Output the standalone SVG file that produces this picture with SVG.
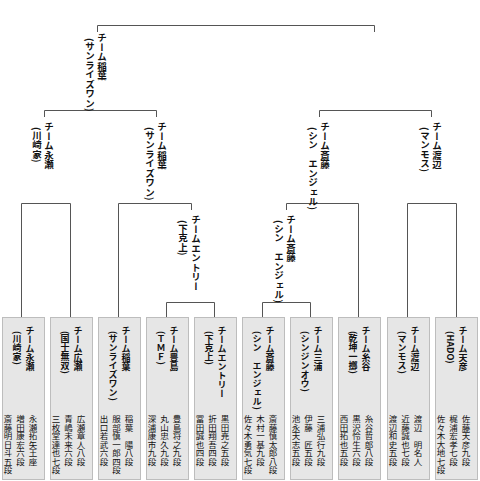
<svg xmlns="http://www.w3.org/2000/svg" width="480" height="481" viewBox="0 0 480 481">
<style>
.ln{fill:none;stroke:#555;stroke-width:1}
.box{fill:#e6e6e6;stroke:#bdbdbd;stroke-width:1}
text{writing-mode:vertical-rl;font-family:"Noto Sans CJK JP","Noto Sans CJK SC",sans-serif;fill:#111}
.h{font-size:9px;font-weight:bold}
.p{font-size:9px;font-weight:bold}
.n{font-size:8.5px}
.lh{font-size:9.5px;font-weight:bold}
.lp{font-size:9.5px;font-weight:bold}
</style>
<rect width="480" height="481" fill="#fff"/>
<g id="connectors">
<path class="ln" d="M97.5,32 V25.5 H374.5 V32"/>
<path class="ln" d="M44.5,117 V110.5 H156.5 V117"/>
<path class="ln" d="M319.5,117 V110.5 H431.5 V117"/>
<path class="ln" d="M21.5,317 V203.5 H70.5 V317"/>
<path class="ln" d="M118.5,317 V203.5 H191.5 V210"/>
<path class="ln" d="M166.5,317 V302.5 H214.5 V317"/>
<path class="ln" d="M262.5,317 V302.5 H310.5 V317"/>
<path class="ln" d="M286.5,210 V203.5 H358.5 V317"/>
<path class="ln" d="M407.5,317 V203.5 H456.5 V317"/>
</g>
<g id="label-final">
<text class="lh" x="102" y="33">チーム稲葉</text>
<text class="lp" x="90" y="38">(サンライズワン)</text>
</g>
<g id="label-semi-1">
<text class="lh" x="49" y="122">チーム永瀬</text>
<text class="lp" x="37" y="127">(川崎家)</text>
</g>
<g id="label-semi-2">
<text class="lh" x="162" y="122">チーム稲葉</text>
<text class="lp" x="150" y="127">(サンライズワン)</text>
</g>
<g id="label-semi-3">
<text class="lh" x="325" y="122">チーム斎藤</text>
<text class="lp" x="313" y="127">(シン　エンジェル)</text>
</g>
<g id="label-semi-4">
<text class="lh" x="437" y="122">チーム渡辺</text>
<text class="lp" x="425" y="127">(マンモス)</text>
</g>
<g id="label-q-2">
<text class="lh" x="196" y="215">チームエントリー</text>
<text class="lp" x="183" y="220">(下克上)</text>
</g>
<g id="label-q-3">
<text class="lh" x="291" y="215">チーム斎藤</text>
<text class="lp" x="279" y="220">(シン　エンジェル)</text>
</g>
<g id="team-nagase">
<rect class="box" x="2.5" y="317.5" width="42" height="162"/>
<text class="h" x="30" y="326">チーム永瀬</text>
<text class="p" x="17" y="331">(川崎家)</text>
<text class="n" x="33" y="415">永瀬拓矢王座</text>
<text class="n" x="20.5" y="415">増田康宏六段</text>
<text class="n" x="8" y="415">斎藤明日斗五段</text>
</g>
<g id="team-hirose">
<rect class="box" x="50.5" y="317.5" width="42" height="162"/>
<text class="h" x="78" y="326">チーム広瀬</text>
<text class="p" x="65" y="331">(国士無双)</text>
<text class="n" x="81" y="415">広瀬章人八段</text>
<text class="n" x="68.5" y="415">青嶋未来六段</text>
<text class="n" x="56" y="415">三枚堂達也七段</text>
</g>
<g id="team-inaba">
<rect class="box" x="98.5" y="317.5" width="42" height="162"/>
<text class="h" x="126" y="326">チーム稲葉</text>
<text class="p" x="113" y="331">(サンライズワン)</text>
<text class="n" x="129" y="415">稲葉　陽八段</text>
<text class="n" x="116.5" y="415">服部慎一郎四段</text>
<text class="n" x="104" y="415">出口若武六段</text>
</g>
<g id="team-toyoshima">
<rect class="box" x="146.5" y="317.5" width="42" height="162"/>
<text class="h" x="174" y="326">チーム豊島</text>
<text class="p" x="161" y="331">(ＴＭＦ)</text>
<text class="n" x="177" y="415">豊島将之九段</text>
<text class="n" x="164.5" y="415">丸山忠久九段</text>
<text class="n" x="152" y="415">深浦康市九段</text>
</g>
<g id="team-entry">
<rect class="box" x="194.5" y="317.5" width="42" height="162"/>
<text class="h" x="222" y="326">チームエントリー</text>
<text class="p" x="209" y="331">(下克上)</text>
<text class="n" x="225" y="415">黒田尭之五段</text>
<text class="n" x="212.5" y="415">折田翔吾四段</text>
<text class="n" x="200" y="415">冨田誠也四段</text>
</g>
<g id="team-saito">
<rect class="box" x="242.5" y="317.5" width="42" height="162"/>
<text class="h" x="270" y="326">チーム斎藤</text>
<text class="p" x="257" y="331">(シン　エンジェル)</text>
<text class="n" x="273" y="415">斎藤慎太郎八段</text>
<text class="n" x="260.5" y="415">木村一基九段</text>
<text class="n" x="248" y="415">佐々木勇気七段</text>
</g>
<g id="team-miura">
<rect class="box" x="290.5" y="317.5" width="42" height="162"/>
<text class="h" x="318" y="326">チーム三浦</text>
<text class="p" x="305" y="331">(シンジンオウ)</text>
<text class="n" x="321" y="415">三浦弘行九段</text>
<text class="n" x="308.5" y="415">伊藤　匠五段</text>
<text class="n" x="296" y="415">池永天志五段</text>
</g>
<g id="team-itodani">
<rect class="box" x="338.5" y="317.5" width="42" height="162"/>
<text class="h" x="366" y="326">チーム糸谷</text>
<text class="p" x="353" y="331">(乾坤一擲)</text>
<text class="n" x="369" y="415">糸谷哲郎八段</text>
<text class="n" x="356.5" y="415">黒沢怜生六段</text>
<text class="n" x="344" y="415">西田拓也五段</text>
</g>
<g id="team-watanabe">
<rect class="box" x="387.5" y="317.5" width="42" height="162"/>
<text class="h" x="415" y="326">チーム渡辺</text>
<text class="p" x="402" y="331">(マンモス)</text>
<text class="n" x="418" y="415">渡辺　明名人</text>
<text class="n" x="405.5" y="415">近藤誠也七段</text>
<text class="n" x="393" y="415">渡辺和史五段</text>
</g>
<g id="team-amahiko">
<rect class="box" x="435.5" y="317.5" width="42" height="162"/>
<text class="h" x="463" y="326">チーム天彦</text>
<text class="p" x="450" y="331">(HADO)</text>
<text class="n" x="466" y="415">佐藤天彦九段</text>
<text class="n" x="453.5" y="415">梶浦宏孝七段</text>
<text class="n" x="441" y="415">佐々木大地七段</text>
</g>
</svg>
